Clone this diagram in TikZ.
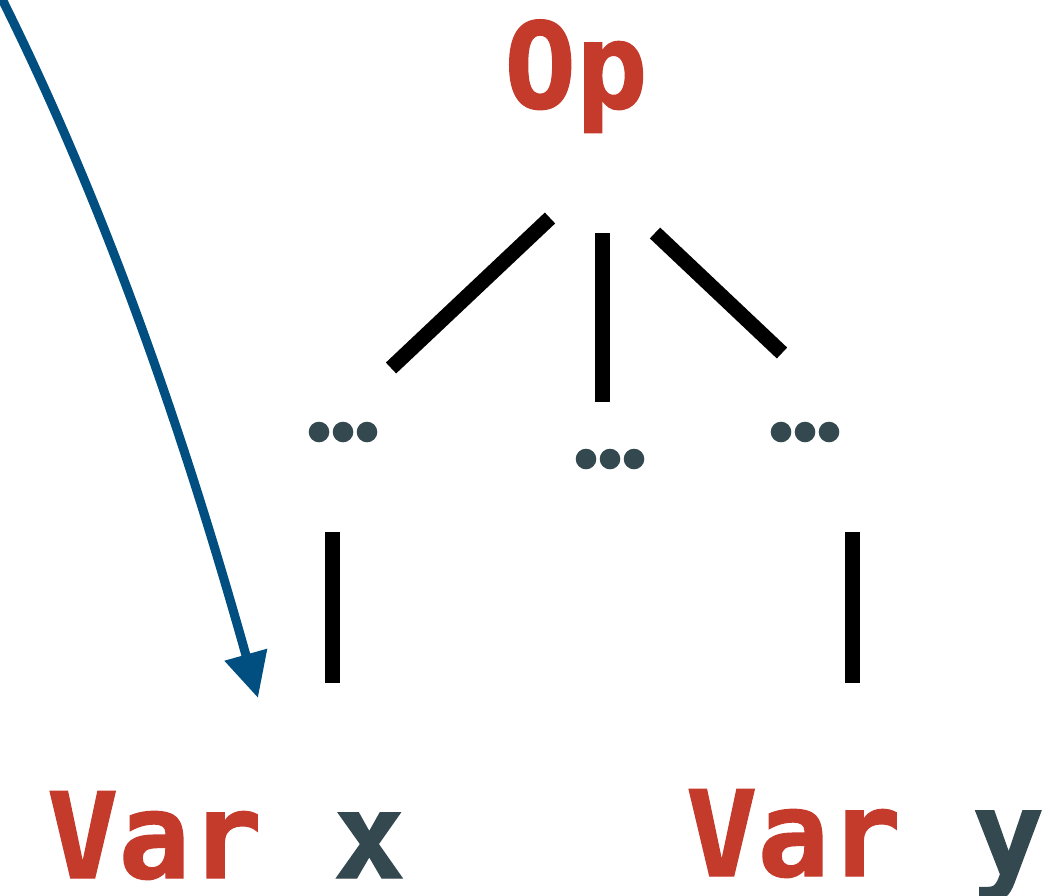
\documentclass[tikz,border=0pt]{standalone}
\usepackage{fontspec}
\usetikzlibrary{arrows.meta,calc,positioning}
\newfontfamily\codefont{DejaVu Sans Mono}[BoldFeatures={FakeBold=1.2}]
\definecolor{opred}{RGB}{196,58,43}
\definecolor{slate}{RGB}{52,72,80}
\definecolor{arrowblue}{RGB}{0,79,128}

\begin{document}
\begin{tikzpicture}[x=1pt,y=-1pt,
    code/.style={font=\codefont\bfseries\fontsize{119}{119}\selectfont,inner sep=0pt,anchor=base},
    edge/.style={line width=15pt},
    dotfill/.style={fill=slate}]
                \useasboundingbox (0,0) rectangle (1050,895);
                %Labels
                \node[code,opred] (op) at (576,108) {Op};
                \node[code] (varx) at (226,878) {\textcolor{opred}{Var} \textcolor{slate}{x}};
                \node[code] (vary) at (865,876) {\textcolor{opred}{Var} \textcolor{slate}{y}};
                %Dots
                \coordinate (dl) at (343,432);
                \coordinate (dm) at (610,459);
                \coordinate (dr) at (805,432);
                \foreach \d in {dl,dm,dr}
                  \foreach \dx in {-24,0,24}
                    \fill[dotfill] ([xshift=\dx pt]\d) circle (10.3pt);
                %Edge ends
                \coordinate (e1) at (550,218);
                \coordinate (e2) at (391,368);
                \coordinate (e3) at (602,233);
                \coordinate (e4) at (602,402);
                \coordinate (e5) at (655,233);
                \coordinate (e6) at (782,353);
                \coordinate (e7) at (332,532);
                \coordinate (e8) at (332,683);
                \coordinate (e9) at (852,532);
                \coordinate (e10) at (852,683);
                %Edges
                \draw[edge] (e1) -- (e2);
                \draw[edge] (e3) -- (e4);
                \draw[edge] (e5) -- (e6);
                \draw[edge] (e7) -- (e8);
                \draw[edge] (e9) -- (e10);
                %Arrow
                \coordinate (from) at (0,-5);
                \coordinate (tip) at (258,698);
                \draw[arrowblue,line width=9pt,-{Triangle[length=45pt,width=42pt]}]
                  (from) .. controls (116,227) and (193,467) .. (tip);
\end{tikzpicture}
\end{document}
